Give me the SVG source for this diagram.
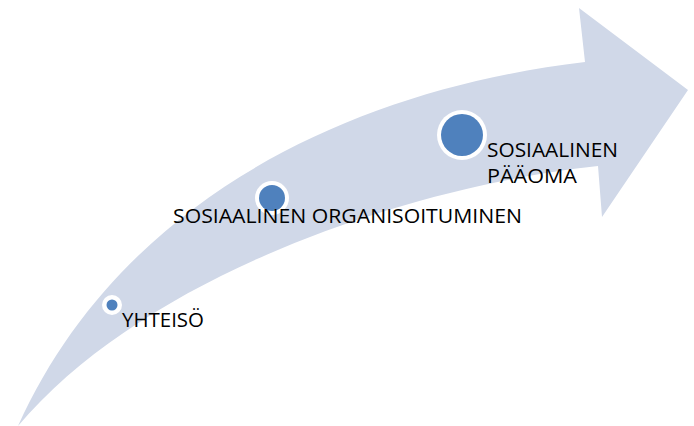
<svg xmlns="http://www.w3.org/2000/svg" width="694" height="426" viewBox="0 0 694 426">
<style>
.lbl{font-family:"Open Sans","Liberation Sans",sans-serif;font-size:20px;fill:#000}
.ring{fill:#fff}
.dot{fill:#4f81bd}
</style>
<rect width="694" height="426" fill="#fff"/>
<g id="connectors">
<path id="arrow" d="M18,426 C120,200 350,90 585,62 L579,8 L688,90 L602,217 L598,166 C420,185 150,270 18,426 Z" fill="#d0d8e8"/>
</g>
<g id="node-yhteiso">
<circle class="ring" cx="112" cy="305" r="10"/>
<circle class="dot" cx="112" cy="305" r="5.5"/>
<text class="lbl" x="122" y="327" textLength="82" lengthAdjust="spacingAndGlyphs">YHTEISÖ</text>
</g>
<g id="node-organisoituminen">
<circle class="ring" cx="272" cy="198" r="17"/>
<circle class="dot" cx="272" cy="198" r="13"/>
<text class="lbl" x="173" y="223" textLength="349" lengthAdjust="spacingAndGlyphs">SOSIAALINEN ORGANISOITUMINEN</text>
</g>
<g id="node-paaoma">
<circle class="ring" cx="462" cy="135" r="25"/>
<circle class="dot" cx="462" cy="135" r="21"/>
<text class="lbl" x="487" y="157" textLength="131" lengthAdjust="spacingAndGlyphs">SOSIAALINEN</text>
<text class="lbl" x="487" y="183" textLength="90" lengthAdjust="spacingAndGlyphs">PÄÄOMA</text>
</g>
</svg>
